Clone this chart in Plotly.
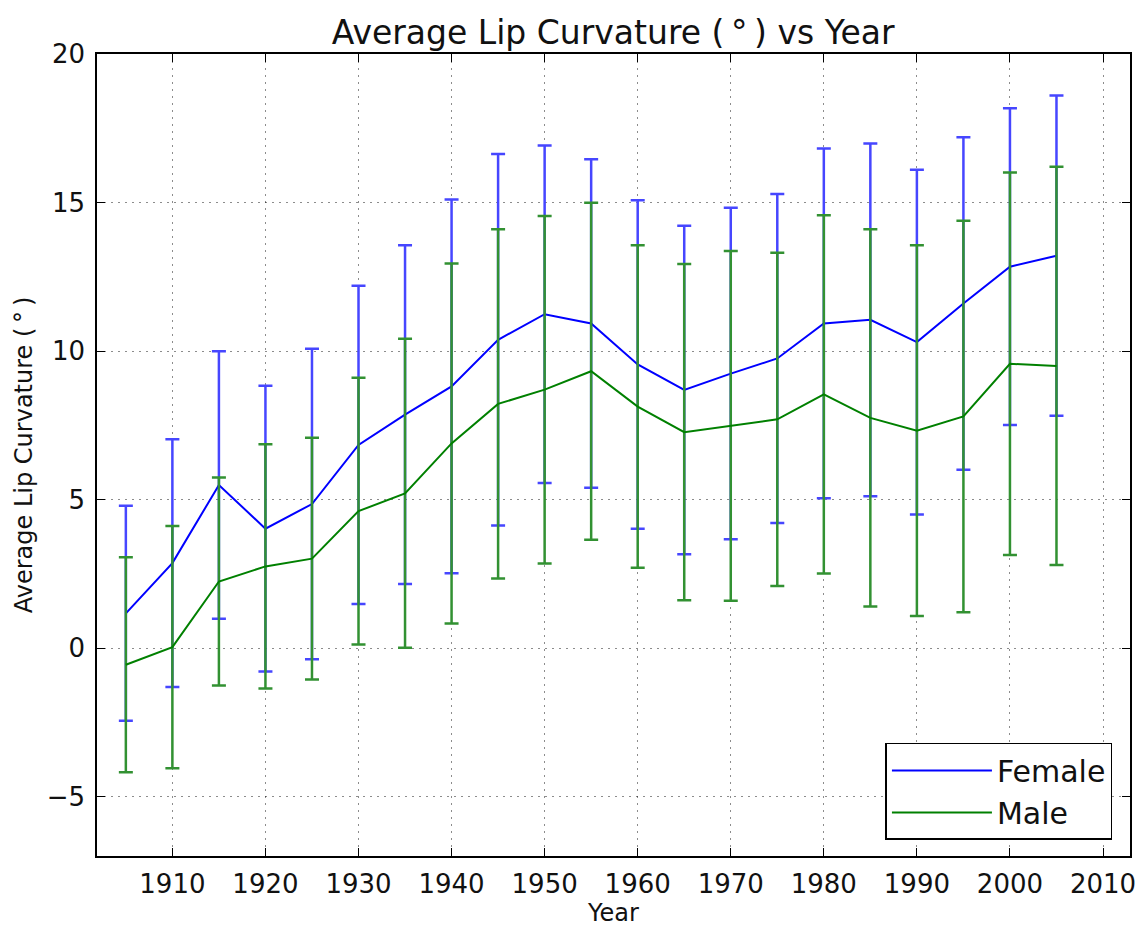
import plotly.graph_objects as go

years = [1905, 1910, 1915, 1920, 1925, 1930, 1935, 1940, 1945, 1950, 1955,
         1960, 1965, 1970, 1975, 1980, 1985, 1990, 1995, 2000, 2005]

female_mean = [1.17, 2.86, 5.49, 4.02, 4.85, 6.84, 7.86, 8.81, 10.38, 11.24, 10.93,
               9.55, 8.69, 9.24, 9.75, 10.93, 11.05, 10.30, 11.60, 12.84, 13.21]
female_err = [3.62, 4.17, 4.50, 4.81, 5.23, 5.36, 5.70, 6.29, 6.25, 5.68, 5.53,
              5.53, 5.53, 5.58, 5.54, 5.89, 5.94, 5.80, 5.60, 5.33, 5.39]

male_mean = [-0.56, 0.03, 2.24, 2.75, 3.01, 4.61, 5.21, 6.89, 8.22, 8.70, 9.32,
             8.13, 7.27, 7.48, 7.70, 8.54, 7.75, 7.32, 7.80, 9.57, 9.50]
male_err = [3.62, 4.08, 3.50, 4.11, 4.07, 4.49, 5.20, 6.06, 5.88, 5.85, 5.67,
            5.43, 5.66, 5.89, 5.61, 6.03, 6.35, 6.24, 6.59, 6.44, 6.70]

x_ticks = [1910, 1920, 1930, 1940, 1950, 1960, 1970, 1980, 1990, 2000, 2010]
y_ticks = [-5, 0, 5, 10, 15, 20]
y_tick_text = ["\u22125", "0", "5", "10", "15", "20"]

FONT = "DejaVu Sans"

fig = go.Figure()
fig.add_trace(go.Scatter(
    x=years, y=female_mean, mode="lines", name="Female",
    line=dict(color="#0000ff", width=2),
    error_y=dict(type="data", array=female_err, visible=True,
                 color="rgb(70,70,255)", thickness=2.5, width=7),
))
fig.add_trace(go.Scatter(
    x=years, y=male_mean, mode="lines", name="Male",
    line=dict(color="#008000", width=2),
    error_y=dict(type="data", array=male_err, visible=True,
                 color="rgb(50,145,50)", thickness=2.5, width=7),
))

axis_common = dict(
    showline=True, linecolor="black", linewidth=1.5, mirror="ticks",
    ticks="inside", ticklen=8, tickwidth=1, tickcolor="black",
    showgrid=True, gridcolor="rgba(0,0,0,0.45)", griddash="2px,5px", gridwidth=1.2,
    zeroline=False, automargin=False,
    tickfont=dict(family=FONT, size=26, color="#111"),
)

fig.update_xaxes(range=[1901.9, 2012.9], tickvals=x_ticks, ticklabelstandoff=4,
                 title=dict(text="Year", font=dict(family=FONT, size=24, color="#111"), standoff=8),
                 **axis_common)
fig.update_yaxes(range=[-7, 20], tickvals=y_ticks, ticktext=y_tick_text,
                 ticklabelstandoff=5,
                 title=dict(text="Average Lip Curvature (\u2009\u00b0\u2009)",
                            font=dict(family=FONT, size=24, color="#111"), standoff=7),
                 **axis_common)

fig.update_layout(
    width=1144, height=927,
    margin=dict(l=97, r=14, t=54, b=71),
    paper_bgcolor="white", plot_bgcolor="white",
    title=dict(text="Average Lip Curvature (\u2009\u00b0\u2009) vs Year",
               x=0.536, xanchor="center", y=1 - 32 / 927, yanchor="middle",
               font=dict(family=FONT, size=33, color="#111")),
    legend=dict(x=0.983, y=0.02, xanchor="right", yanchor="bottom",
                bordercolor="black", borderwidth=1.5, bgcolor="white",
                font=dict(family=FONT, size=30, color="#111"),
                itemwidth=100, tracegroupgap=0),
    showlegend=True,
)

fig.write_html("out.html", config={"displayModeBar": False},
               post_script="document.body.style.margin='0px';")
